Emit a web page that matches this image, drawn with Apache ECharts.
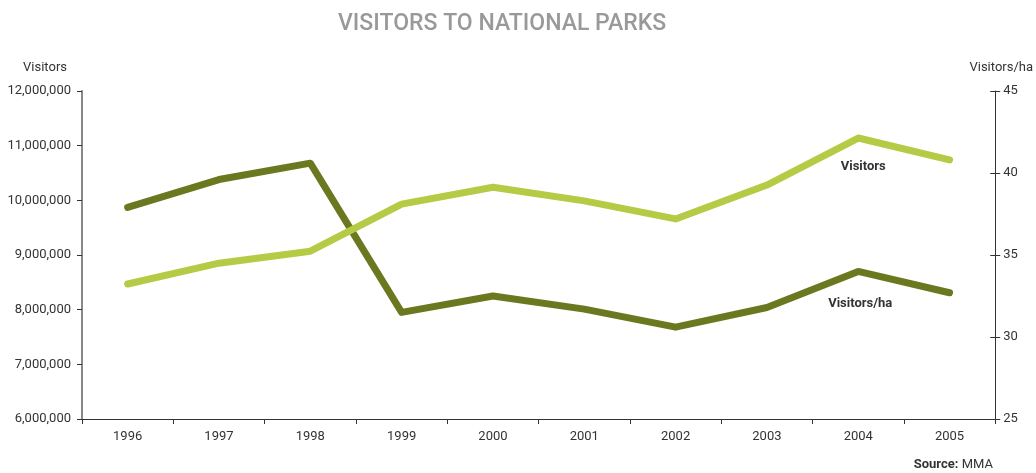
<!DOCTYPE html>
<html>
<head>
<meta charset="utf-8">
<script src="https://cdn.jsdelivr.net/npm/echarts@6/dist/echarts.min.js"></script>
<style>
html,body{margin:0;padding:0;background:#fff;}
#c{width:1036px;height:473px;}
</style>
</head>
<body>
<div id="c"></div>
<script>
var years = ['1996','1997','1998','1999','2000','2001','2002','2003','2004','2005'];
var visitors = [8470000, 8850000, 9070000, 9930000, 10240000, 9990000, 9660000, 10280000, 11140000, 10740000];
var visitorsPerHa = [37.9, 39.6, 40.6, 31.5, 32.5, 31.7, 30.6, 31.8, 34.0, 32.7];
var labelIndex = 8;

var FONT = 'Roboto';
var chart = echarts.init(document.getElementById('c'));

function withLabel(arr, text, offset) {
  return arr.map(function (v, i) {
    if (i !== labelIndex) return v;
    return {
      value: v,
      label: {
        show: true,
        formatter: text,
        position: 'bottom',
        offset: offset,
        color: '#333',
        fontWeight: 'bold',
        fontSize: 13,
        fontFamily: FONT
      }
    };
  });
}

chart.setOption({
  animation: false,
  textStyle: { fontFamily: FONT },
  title: {
    text: 'VISITORS TO NATIONAL PARKS',
    left: 333,
    top: 8,
    textStyle: { color: '#999', fontSize: 23, fontWeight: 500, fontFamily: FONT }
  },
  grid: { left: 82, right: 40, top: 91, bottom: 54 },
  xAxis: {
    type: 'category',
    data: years,
    boundaryGap: true,
    axisLine: { lineStyle: { color: '#333', width: 1 } },
    axisTick: { show: true, length: 5, lineStyle: { color: '#333' } },
    axisLabel: { color: '#333', fontSize: 13, margin: 11, fontFamily: FONT },
    splitLine: { show: false }
  },
  yAxis: [
    {
      type: 'value',
      position: 'left',
      min: 6000000, max: 12000000, interval: 1000000,
      name: 'Visitors',
      nameLocation: 'end',
      nameGap: 17,
      nameTextStyle: { color: '#333', fontSize: 13, align: 'right', padding: [0, 15, 0, 0], fontFamily: FONT },
      axisLine: { show: true, lineStyle: { color: '#888', width: 2 } },
      axisTick: { show: true, length: 5, lineStyle: { color: '#333' } },
      axisLabel: {
        color: '#333', fontSize: 13, margin: 11, fontFamily: FONT,
        formatter: function (v) { return v.toLocaleString('en-US'); }
      },
      splitLine: { show: false }
    },
    {
      type: 'value',
      position: 'right',
      min: 25, max: 45, interval: 5,
      name: 'Visitors/ha',
      nameLocation: 'end',
      nameGap: 17,
      nameTextStyle: { color: '#333', fontSize: 13, align: 'center', padding: [0, 0, 0, 12], fontFamily: FONT },
      axisLine: { show: true, lineStyle: { color: '#333', width: 1 } },
      axisTick: { show: true, length: 5, lineStyle: { color: '#333' } },
      axisLabel: { color: '#333', fontSize: 13, margin: 8, fontFamily: FONT },
      splitLine: { show: false }
    },
    {
      type: 'value',
      position: 'right',
      min: 25, max: 45, interval: 5,
      axisLine: { show: false },
      axisTick: { show: true, inside: true, length: 5, lineStyle: { color: '#333' } },
      axisLabel: { show: false },
      splitLine: { show: false }
    }
  ],
  series: [
    {
      name: 'Visitors/ha',
      type: 'line',
      yAxisIndex: 1,
      data: withLabel(visitorsPerHa, 'Visitors/ha', [2, 20]),
      symbol: 'circle',
      symbolSize: 1,
      showSymbol: true,
      itemStyle: { color: '#6b781f' },
      lineStyle: { color: '#6b781f', width: 7, cap: 'round', join: 'round' },
      z: 2
    },
    {
      name: 'Visitors',
      type: 'line',
      yAxisIndex: 0,
      data: withLabel(visitors, 'Visitors', [5, 17]),
      symbol: 'circle',
      symbolSize: 1,
      showSymbol: true,
      itemStyle: { color: '#b5cb45' },
      lineStyle: { color: '#b5cb45', width: 7, cap: 'round', join: 'round' },
      z: 3
    }
  ],
  graphic: [
    {
      type: 'text',
      right: 43,
      top: 458,
      style: {
        text: '{b|Source:} {n|MMA}',
        rich: {
          b: { fontWeight: 'bold', fontSize: 13, fill: '#333', fontFamily: FONT },
          n: { fontSize: 13, fill: '#333', fontFamily: FONT }
        }
      }
    }
  ]
});
</script>
</body>
</html>
